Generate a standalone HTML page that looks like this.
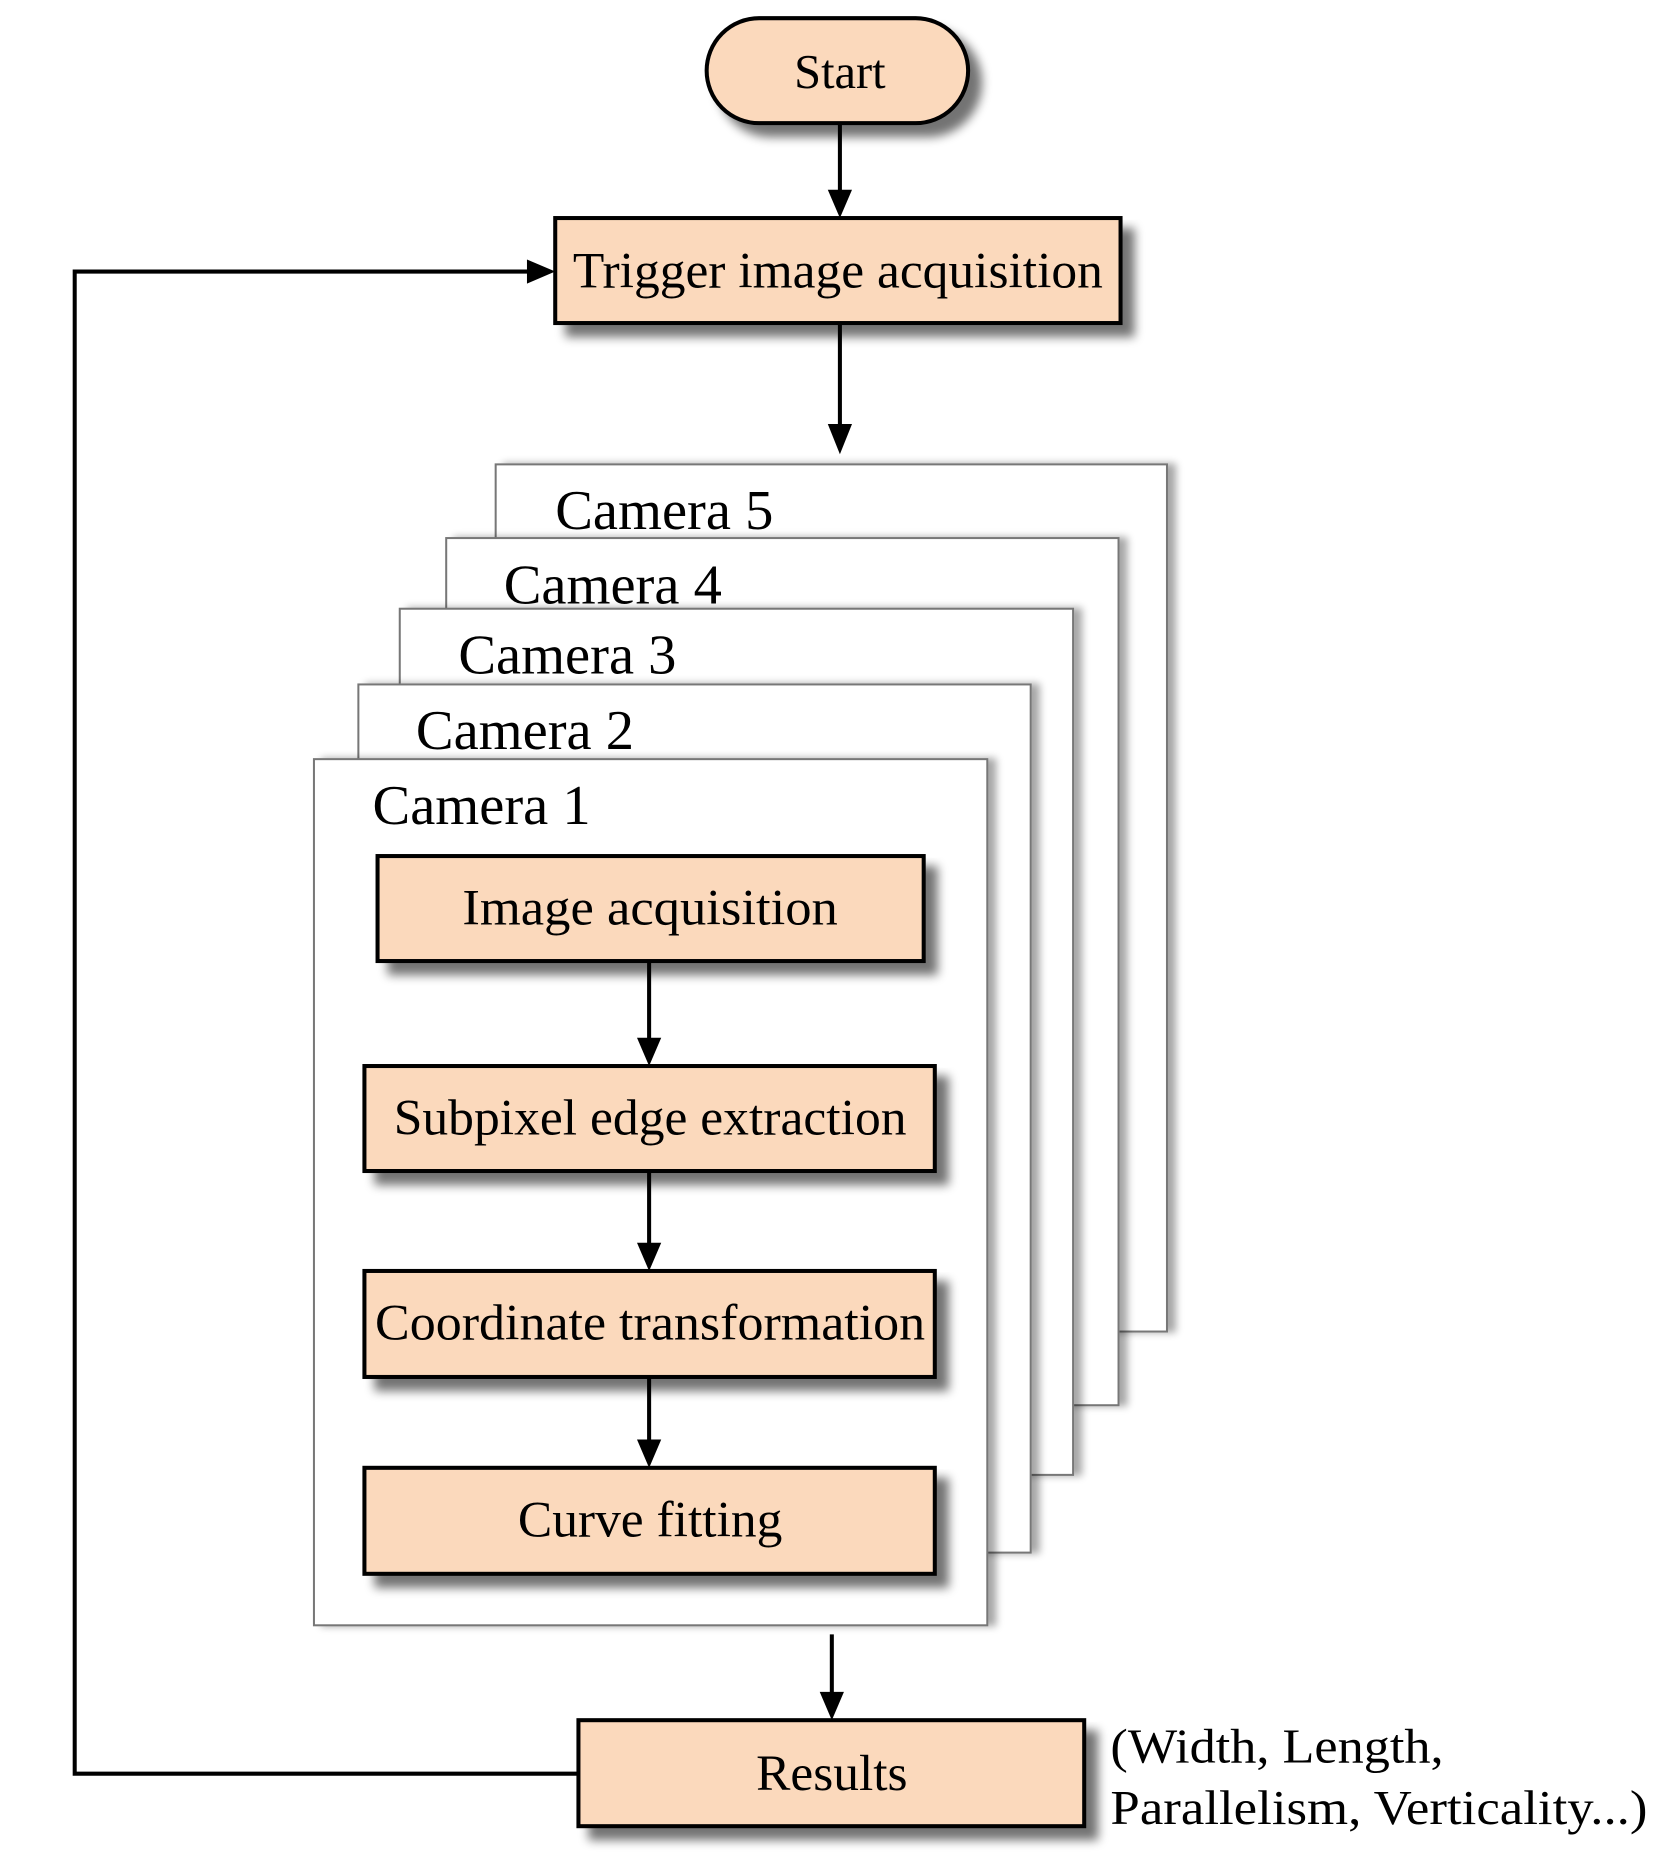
<!DOCTYPE html>
<html><head><meta charset="utf-8"><style>
html,body{margin:0;padding:0;background:#fff;}
svg{display:block;}
text{font-family:"Liberation Serif",serif;fill:#000;}
</style></head><body>
<svg width="1669" height="1866" viewBox="0 0 1669 1866" xmlns="http://www.w3.org/2000/svg">
<defs>
<filter id="sh" x="-10%" y="-10%" width="130%" height="140%">
<feGaussianBlur in="SourceAlpha" stdDeviation="5"/>
<feOffset dx="12" dy="12" result="b"/>
<feComponentTransfer><feFuncA type="linear" slope="0.55"/></feComponentTransfer>
<feMerge><feMergeNode/><feMergeNode in="SourceGraphic"/></feMerge>
</filter>
<filter id="shf" x="-5%" y="-5%" width="115%" height="110%">
<feGaussianBlur in="SourceAlpha" stdDeviation="4"/>
<feOffset dx="8" dy="0"/>
<feComponentTransfer><feFuncA type="linear" slope="0.35"/></feComponentTransfer>
<feMerge><feMergeNode/><feMergeNode in="SourceGraphic"/></feMerge>
</filter>
</defs>
<g transform="scale(1.0095)">
<rect x="700" y="18" width="259" height="104" rx="52" fill="#FBD9BC" stroke="#000" stroke-width="4" filter="url(#sh)"/>
<text x="832" y="87" font-size="48" text-anchor="middle">Start</text>

<line x1="832" y1="122" x2="832" y2="190" stroke="#000" stroke-width="4"/>
<polygon points="820,188 844,188 832,216" fill="#000"/>

<rect x="550" y="216" width="560" height="104" fill="#FBD9BC" stroke="#000" stroke-width="4" filter="url(#sh)"/>
<text x="830" y="285" font-size="50" text-anchor="middle" textLength="525" lengthAdjust="spacingAndGlyphs">Trigger image acquisition</text>

<line x1="832" y1="320" x2="832" y2="424" stroke="#000" stroke-width="4"/>
<polygon points="820,420 844,420 832,450" fill="#000"/>

<rect x="491" y="460" width="665" height="859" fill="#fff" stroke="#777" stroke-width="2" filter="url(#shf)"/>
<text x="550" y="524" font-size="56">Camera 5</text>
<rect x="442" y="533" width="666" height="859" fill="#fff" stroke="#777" stroke-width="2" filter="url(#shf)"/>
<text x="499" y="598" font-size="56">Camera 4</text>
<rect x="396" y="603" width="667" height="858" fill="#fff" stroke="#777" stroke-width="2" filter="url(#shf)"/>
<text x="454" y="667" font-size="56">Camera 3</text>
<rect x="355" y="678" width="666" height="860" fill="#fff" stroke="#777" stroke-width="2" filter="url(#shf)"/>
<text x="412" y="742" font-size="56">Camera 2</text>
<rect x="311" y="752" width="667" height="858" fill="#fff" stroke="#777" stroke-width="2" filter="url(#shf)"/>
<text x="369" y="816" font-size="56">Camera 1</text>

<rect x="374" y="848" width="541" height="104" fill="#FBD9BC" stroke="#000" stroke-width="4" filter="url(#sh)"/>
<text x="644" y="916" font-size="50" text-anchor="middle" textLength="372" lengthAdjust="spacingAndGlyphs">Image acquisition</text>
<line x1="643" y1="952" x2="643" y2="1030" stroke="#000" stroke-width="4"/>
<polygon points="631,1028 655,1028 643,1056" fill="#000"/>

<rect x="361" y="1056" width="565" height="104" fill="#FBD9BC" stroke="#000" stroke-width="4" filter="url(#sh)"/>
<text x="644" y="1124" font-size="50" text-anchor="middle" textLength="508" lengthAdjust="spacingAndGlyphs">Subpixel  edge extraction</text>
<line x1="643" y1="1160" x2="643" y2="1233" stroke="#000" stroke-width="4"/>
<polygon points="631,1231 655,1231 643,1259" fill="#000"/>

<rect x="361" y="1259" width="565" height="105" fill="#FBD9BC" stroke="#000" stroke-width="4" filter="url(#sh)"/>
<text x="644" y="1327" font-size="50" text-anchor="middle" textLength="545" lengthAdjust="spacingAndGlyphs">Coordinate transformation</text>
<line x1="643" y1="1364" x2="643" y2="1428" stroke="#000" stroke-width="4"/>
<polygon points="631,1426 655,1426 643,1454" fill="#000"/>

<rect x="361" y="1454" width="565" height="105" fill="#FBD9BC" stroke="#000" stroke-width="4" filter="url(#sh)"/>
<text x="644" y="1522" font-size="50" text-anchor="middle" textLength="262" lengthAdjust="spacingAndGlyphs">Curve fitting</text>

<line x1="824" y1="1619" x2="824" y2="1678" stroke="#000" stroke-width="4"/>
<polygon points="812,1676 836,1676 824,1704" fill="#000"/>

<rect x="573" y="1704" width="501" height="105" fill="#FBD9BC" stroke="#000" stroke-width="4" filter="url(#sh)"/>
<text x="824" y="1773" font-size="50" text-anchor="middle" textLength="150" lengthAdjust="spacingAndGlyphs">Results</text>

<polyline points="573,1757 74,1757 74,269 524,269" fill="none" stroke="#000" stroke-width="4"/>
<polygon points="522,257 522,281 550,269" fill="#000"/>

<text x="1100" y="1746" font-size="48" textLength="330" lengthAdjust="spacingAndGlyphs">(Width, Length,</text>
<text x="1100" y="1807" font-size="48" textLength="532" lengthAdjust="spacingAndGlyphs">Parallelism, Verticality...)</text>
</g>
</svg>
</body></html>
